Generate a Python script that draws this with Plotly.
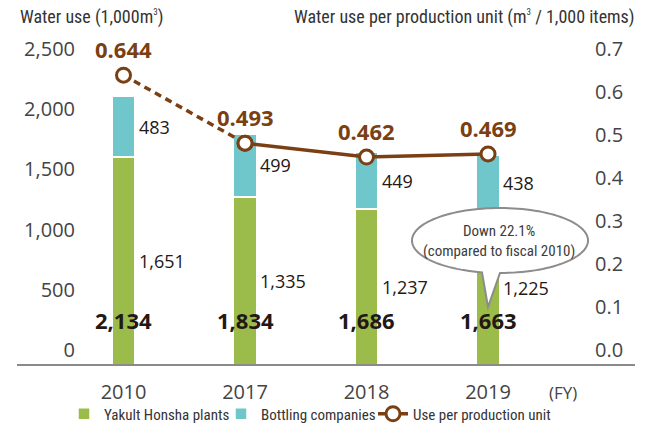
import math
import plotly.graph_objects as go

years = ["2010", "2017", "2018", "2019"]
honsha = [1651, 1335, 1237, 1225]
bottling = [483, 499, 449, 438]
totals = [2134, 1834, 1686, 1663]
per_unit = [0.644, 0.493, 0.462, 0.469]
left_ticks = [0, 500, 1000, 1500, 2000, 2500]
right_ticks = [0.0, 0.1, 0.2, 0.3, 0.4, 0.5, 0.6, 0.7]

GREEN = "#9BBB4B"
CYAN = "#6FC6CB"
BROWN = "#7A3F12"
NUM_FONT = "Open Sans"
TXT_FONT = "Liberation Sans Narrow, Arial Narrow, Roboto Condensed, sans-serif"

W, H = 649, 423
L, R, T, B = 76, 594, 40, 365
PW, PH = R - L, B - T


def px(x):
    return (x - L) / PW


def py(y):
    return (B - y) / PH


fig = go.Figure()
fig.add_trace(go.Bar(x=years, y=honsha, name="Yakult Honsha plants", width=0.19,
                     marker=dict(color=GREEN, line=dict(color="white", width=1.5)),
                     legendwidth=112, hoverinfo="skip"))
fig.add_trace(go.Bar(x=years, y=bottling, name="Bottling companies", width=0.19,
                     marker=dict(color=CYAN, line=dict(color="white", width=1.5)),
                     legendwidth=107, hoverinfo="skip"))
mk = dict(size=14, color="white", line=dict(color=BROWN, width=3))
fig.add_trace(go.Scatter(x=years[:2], y=per_unit[:2], yaxis="y2", mode="lines+markers",
                         line=dict(color=BROWN, width=3.5, dash="7px,5px"), marker=mk,
                         showlegend=False, hoverinfo="skip"))
fig.add_trace(go.Scatter(x=years[1:], y=per_unit[1:], yaxis="y2", mode="lines+markers",
                         name="Use per production unit",
                         line=dict(color=BROWN, width=3.5), marker=mk, hoverinfo="skip"))
# axes that only carry tick labels
fig.add_trace(go.Scatter(x=[], y=[], yaxis="y3", showlegend=False, hoverinfo="skip"))
fig.add_trace(go.Scatter(x=[], y=[], yaxis="y4", showlegend=False, hoverinfo="skip"))

ann = []
for i, yr in enumerate(years):
    ann.append(dict(x=i, y=honsha[i] / 2, xref="x", yref="y", text=f"{honsha[i]:,}",
                    xanchor="left", yanchor="middle", xshift=13, showarrow=False,
                    font=dict(family=NUM_FONT, size=18, color="#231815")))
    ann.append(dict(x=i, y=honsha[i] + bottling[i] / 2, xref="x", yref="y",
                    text=f"{bottling[i]:,}", xanchor="left", yanchor="middle", xshift=13,
                    showarrow=False, font=dict(family=NUM_FONT, size=18, color="#231815")))
    ann.append(dict(x=i, y=py(320), xref="x", yref="paper", text=f"<b>{totals[i]:,}</b>",
                    xanchor="center", yanchor="middle", showarrow=False,
                    font=dict(family=NUM_FONT, size=22, color="#231815")))
    ann.append(dict(x=i, y=per_unit[i], xref="x", yref="y2", text=f"<b>{per_unit[i]:.3f}</b>",
                    xanchor="center", yanchor="middle", yshift=26, showarrow=False,
                    font=dict(family=NUM_FONT, size=22, color=BROWN)))

SUP3 = "<sup><span style='font-size:9px'>3</span></sup>"
ann += [
    dict(x=px(18), y=py(17), xref="paper", yref="paper", xanchor="left", yanchor="middle",
         text=f"Water use (1,000m{SUP3})", showarrow=False,
         font=dict(family=TXT_FONT, size=18, color="#333333")),
    dict(x=px(637), y=py(17), xref="paper", yref="paper", xanchor="right", yanchor="middle",
         text=f"Water use per production unit (m{SUP3} / 1,000 items)", showarrow=False,
         font=dict(family=TXT_FONT, size=18, color="#333333")),
    dict(x=px(499), y=py(241), xref="paper", yref="paper", xanchor="center", yanchor="middle",
         text="Down 22.1%<br>(compared to fiscal 2010)", showarrow=False,
         font=dict(family=TXT_FONT, size=15, color="#3c3c3c")),
]

# speech-bubble callout
cx, cy, rx, ry = 500, 240.5, 88, 32.5
tip = (488, 307)
t_end = math.pi / 2 + math.asin(18 / rx)
pts = [tip]
n = 120
span = 2 * math.pi - (t_end - math.pi / 2)
for k in range(n + 1):
    t = math.pi / 2 - span * k / n
    pts.append((cx + rx * math.cos(t), cy + ry * math.sin(t)))
path = "M " + " L ".join(f"{px(a):.5f},{py(b):.5f}" for a, b in pts) + " Z"

shapes = [
    dict(type="line", xref="paper", yref="paper", x0=px(17), x1=px(635), y0=0, y1=0,
         line=dict(color="#8a8a8a", width=2)),
    dict(type="path", xref="paper", yref="paper", path=path, fillcolor="white",
         line=dict(color="#8c8c8c", width=2)),
]

fy_pos = 3 + (563 - 488) / 121.5

fig.update_layout(
    width=W, height=H, margin=dict(l=L, r=W - R, t=T, b=H - B, pad=0, autoexpand=False),
    paper_bgcolor="white", plot_bgcolor="white", barmode="stack",
    showlegend=True,
    legend=dict(orientation="h", x=px(64), y=py(414), xanchor="left", yanchor="middle",
                font=dict(family=TXT_FONT, size=15, color="#333333"), traceorder="normal",
                itemwidth=30, tracegroupgap=0, bgcolor="rgba(0,0,0,0)"),
    xaxis=dict(range=[-0.391, 3.872], showgrid=False, zeroline=False, automargin=False,
               tickvals=list(range(len(years))) + [fy_pos],
               ticktext=years + ["<span style='font-size:17px'>(FY)</span>"],
               showline=False, ticks="", ticklabelstandoff=13,
               tickfont=dict(family=NUM_FONT, size=20, color="#444444")),
    yaxis=dict(range=[0, 2580], showgrid=False, zeroline=False, showticklabels=False,
               automargin=False),
    yaxis2=dict(range=[0, PH / 450], overlaying="y", side="right", showgrid=False,
                zeroline=False, showticklabels=False, automargin=False),
    yaxis3=dict(range=[-15 / (301 / 2500), 310 / (301 / 2500)], overlaying="y", side="left",
                tickvals=left_ticks, ticktext=[f"{v:,}" for v in left_ticks],
                showgrid=False, zeroline=False, ticks="", automargin=False,
                tickfont=dict(family=NUM_FONT, size=20, color="#444444")),
    yaxis4=dict(range=[-15 / (301 / 0.7), 310 / (301 / 0.7)], overlaying="y", side="right",
                tickvals=right_ticks, ticktext=[f"{v:.1f}" for v in right_ticks],
                showgrid=False, zeroline=False, ticks="", automargin=False,
                tickfont=dict(family=NUM_FONT, size=20, color="#444444")),
    annotations=ann, shapes=shapes,
)

fig.write_html("out.html", config={"displayModeBar": False},
               post_script="document.body.style.margin='0px';")
